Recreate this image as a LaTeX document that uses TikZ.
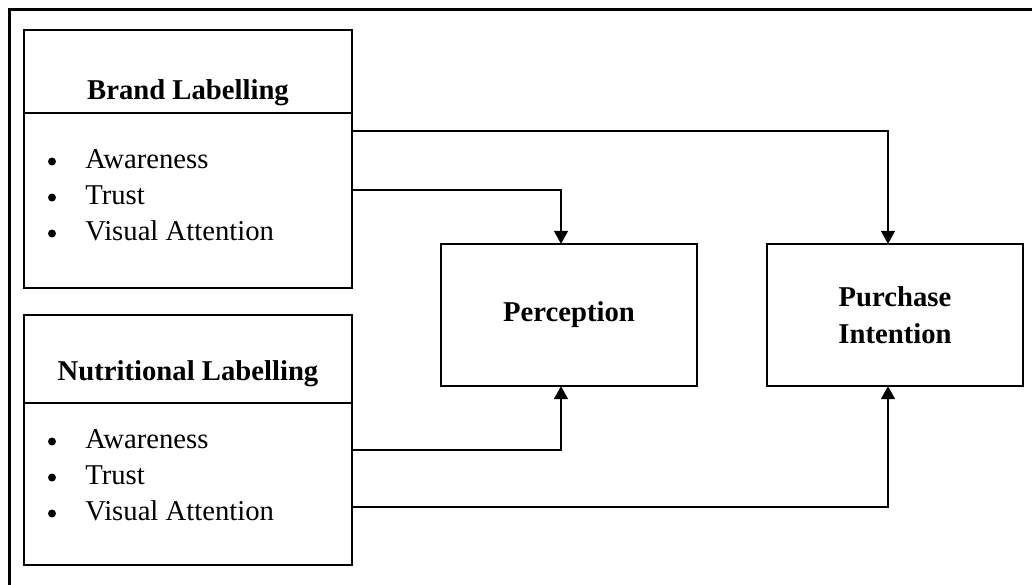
\documentclass[tikz,border=0pt]{standalone}
\usepackage{fontspec}
\setmainfont{Liberation Serif}
\usetikzlibrary{arrows.meta,positioning}

\newcommand{\bodyfont}{\fontsize{20.4}{26.3}\selectfont}
\newcommand{\titlefont}{\bfseries\fontsize{20.4}{26.3}\selectfont}

\tikzset{
  box/.style={draw, line width=1.9pt, rectangle, inner sep=0pt, outer sep=0pt, minimum width=8.2cm},
  bigbox/.style={draw, line width=1.9pt, rectangle, inner sep=0pt, outer sep=0pt,
    minimum width=6.4cm, minimum height=3.55cm, align=center, font=\titlefont},
  heading/.style={inner sep=0pt, anchor=base, font=\titlefont},
  itemtext/.style={inner sep=0pt, anchor=base west, font=\bodyfont},
  dot/.style={circle, fill, inner sep=0pt, minimum size=0.2cm},
  conn/.style={line width=1.9pt, -{Triangle[length=0.33cm,width=0.34cm]}}
}

\begin{document}
\begin{tikzpicture}[x=0.025cm, y=-0.025cm]
\useasboundingbox (0,0) rectangle (1032,585);

% outer frame (cut at right and bottom)
\draw[line width=1.9pt] (9.5,585) -- (9.5,9.5) -- (1032,9.5);

% Brand Labelling
\node[box, minimum height=2.075cm] (brandhead) at (188,71.5) {};
\node[box, minimum height=4.375cm, below=0pt of brandhead] (brandbody) {};
\node[heading] (brandtitle) at (188,99) {Brand Labelling};
\foreach \k/\t in {0/Awareness,1/Trust,2/Visual Attention}{
  \node[dot] (bdot\k) at (52,161.5+36*\k) {};
  \node[itemtext] (bitem\k) at (85,168+36*\k) {\t};
}

% Nutritional Labelling
\node[box, minimum height=2.2cm] (nutrihead) at (188,359) {};
\node[box, minimum height=4.05cm, below=0pt of nutrihead] (nutribody) {};
\node[heading] (nutrititle) at (188,380) {Nutritional Labelling};
\foreach \k/\t in {0/Awareness,1/Trust,2/Visual Attention}{
  \node[dot] (ndot\k) at (52,441.5+36*\k) {};
  \node[itemtext] (nitem\k) at (85,448+36*\k) {\t};
}

% Outcomes
\node[bigbox] (percep) at (569,315) {Perception};
\node[bigbox] (purchase) at (895,315) {Purchase\\Intention};

% Connectors
\draw[conn] ([yshift=1.7375cm]brandbody.east) -| ([xshift=-0.175cm]purchase.north);
\draw[conn] ([yshift=0.2625cm]brandbody.east) -| ([xshift=-0.2cm]percep.north);
\draw[conn] ([yshift=0.85cm]nutribody.east) -| ([xshift=-0.2cm]percep.south);
\draw[conn] ([yshift=-0.575cm]nutribody.east) -| ([xshift=-0.175cm]purchase.south);
\end{tikzpicture}
\end{document}
